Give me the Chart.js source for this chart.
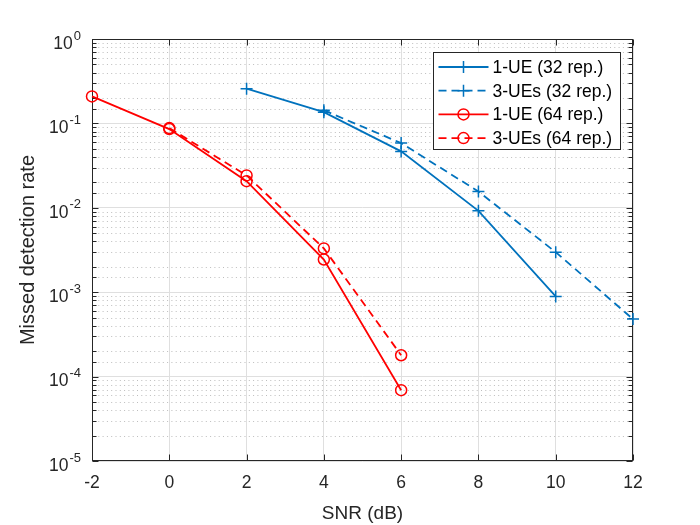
<!DOCTYPE html>
<html>
<head>
<meta charset="utf-8">
<title>Missed detection rate vs SNR</title>
<script src="https://cdn.jsdelivr.net/npm/chart.js@4.4.1/dist/chart.umd.min.js"></script>
<style>
  html, body { margin: 0; padding: 0; background: #fff; }
  #wrap { width: 700px; height: 525px; }
</style>
</head>
<body>
<div id="wrap"><canvas id="mdr" width="700" height="525"></canvas></div>
<script>
// SNR points (dB) for each curve
const snr1ue32 = [2, 4, 6, 8, 10];
const snr3ue32 = [4, 6, 8, 10, 12];
const snr1ue64 = [-2, 0, 2, 4, 6];
const snr3ue64 = [0, 2, 4, 6];

// missed detection rate
const mdr1ue32 = [0.258, 0.136, 0.0466, 0.0092, 0.00089];
const mdr3ue32 = [0.143, 0.0584, 0.0156, 0.00298, 0.00048];
const mdr1ue64 = [0.209, 0.0856, 0.0207, 0.00244, 0.000069];
const mdr3ue64 = [0.088, 0.0242, 0.0033, 0.000179];

const seriesLabels = ['1-UE (32 rep.)', '3-UEs (32 rep.)', '1-UE (64 rep.)', '3-UEs (64 rep.)'];
const xTicks = [-2, 0, 2, 4, 6, 8, 10, 12];

const FONT = '"Liberation Sans", Arial, Helvetica, sans-serif';
const BLUE = '#0072BD';
const RED = '#FF0000';
const AXIS = '#262626';

const pts = (xs, ys) => xs.map((x, i) => ({ x: x, y: ys[i] }));
const isDecade = v => Math.abs(Math.log10(v) - Math.round(Math.log10(v))) < 1e-9;

function line(ctx, x1, y1, x2, y2) {
    ctx.beginPath();
    ctx.moveTo(x1, y1);
    ctx.lineTo(x2, y2);
    ctx.stroke();
}

function marker(ctx, style, r, x, y) {
    ctx.beginPath();
    if (style === 'cross') {
        ctx.moveTo(x - r, y); ctx.lineTo(x + r, y);
        ctx.moveTo(x, y - r); ctx.lineTo(x, y + r);
    } else {
        ctx.arc(x, y, r, 0, Math.PI * 2);
    }
    ctx.stroke();
}

// MATLAB-ish axes: dotted minor grid, box, inward ticks, 10^n labels, legend
const matlabAxes = {
    id: 'matlabAxes',
    beforeDatasetsDraw(chart) {
        const { ctx, chartArea: a, scales: { x, y } } = chart;
        ctx.save();
        ctx.strokeStyle = '#bdbdbd';
        ctx.lineWidth = 1;
        ctx.setLineDash([1, 3.3]);
        y.ticks.forEach(t => {
            if (isDecade(t.value)) return;
            const py = Math.round(y.getPixelForValue(t.value)) + 0.5;
            line(ctx, a.left + 2, py, a.right, py);
        });

        ctx.strokeStyle = AXIS;
        ctx.setLineDash([]);
        const L = Math.round(a.left) + 0.5, R = Math.round(a.right) - 0.5;
        const T = Math.round(a.top) + 0.5, B = Math.round(a.bottom) - 0.5;
        ctx.strokeRect(L, T, R - L, B - T);

        x.ticks.forEach(t => {
            const px = Math.round(x.getPixelForValue(t.value)) + 0.5;
            line(ctx, px, B, px, B - 6);
            line(ctx, px, T, px, T + 6);
        });
        y.ticks.forEach(t => {
            const py = Math.round(y.getPixelForValue(t.value)) + 0.5;
            const len = isDecade(t.value) ? 6 : 4;
            line(ctx, L, py, L + len, py);
            line(ctx, R, py, R - len, py);
        });
        ctx.restore();
    },
    afterDatasetsDraw(chart) {
        const { ctx, chartArea: a, scales: { y } } = chart;
        ctx.save();

        // y tick labels as 10^n
        ctx.fillStyle = AXIS;
        ctx.textBaseline = 'middle';
        ctx.textAlign = 'left';
        y.ticks.filter(t => isDecade(t.value)).forEach(t => {
            const py = y.getPixelForValue(t.value);
            const e = String(Math.round(Math.log10(t.value)));
            ctx.font = '17.5px ' + FONT;
            const wb = ctx.measureText('10').width;
            ctx.font = '13px ' + FONT;
            const we = ctx.measureText(e).width;
            const xr = a.left - 11;
            ctx.font = '17.5px ' + FONT;
            ctx.fillText('10', xr - we - wb - 1, py + 5);
            ctx.font = '13px ' + FONT;
            ctx.fillText(e, xr - we, py - 3);
        });

        // legend
        const lx = 433.5, ly = 52.5, lw = 187, lh = 97;
        ctx.fillStyle = '#fff';
        ctx.fillRect(lx, ly, lw, lh);
        ctx.strokeStyle = AXIS;
        ctx.lineWidth = 1;
        ctx.strokeRect(lx, ly, lw, lh);
        ctx.font = '17.5px ' + FONT;
        ctx.textBaseline = 'middle';
        chart.data.datasets.forEach((ds, i) => {
            const cy = ly + 14.5 + i * 23.7;
            ctx.strokeStyle = ds.borderColor;
            ctx.lineWidth = ds.borderWidth;
            ctx.setLineDash(ds.borderDash || []);
            line(ctx, lx + 5, cy, lx + 55, cy);
            ctx.setLineDash([]);
            ctx.lineWidth = ds.pointBorderWidth;
            marker(ctx, ds.pointStyle, ds.pointRadius, lx + 30, cy);
            ctx.fillStyle = '#000';
            ctx.fillText(ds.label, lx + 59, cy + 1);
        });
        ctx.restore();
    }
};

const mkSet = (label, data, color, dashed, style) => ({
    label: label,
    data: data,
    borderColor: color,
    borderWidth: 1.8,
    borderDash: dashed ? [8, 5] : [],
    pointStyle: style,
    pointRadius: style === 'cross' ? 6 : 5.5,
    pointBorderWidth: 1.5,
    pointBorderColor: color,
    pointBackgroundColor: 'rgba(0,0,0,0)',
    fill: false,
    tension: 0,
    clip: false
});

new Chart(document.getElementById('mdr'), {
    type: 'line',
    data: {
        datasets: [
            mkSet(seriesLabels[0], pts(snr1ue32, mdr1ue32), BLUE, false, 'cross'),
            mkSet(seriesLabels[1], pts(snr3ue32, mdr3ue32), BLUE, true, 'cross'),
            mkSet(seriesLabels[2], pts(snr1ue64, mdr1ue64), RED, false, 'circle'),
            mkSet(seriesLabels[3], pts(snr3ue64, mdr3ue64), RED, true, 'circle')
        ]
    },
    options: {
        responsive: false,
        animation: false,
        devicePixelRatio: 1,
        layout: { padding: { left: 0, top: 39, right: 67, bottom: 0 } },
        plugins: { legend: { display: false }, tooltip: { enabled: false } },
        scales: {
            x: {
                type: 'linear',
                min: -2,
                max: 12,
                afterBuildTicks: s => { s.ticks = xTicks.map(v => ({ value: v })); },
                afterFit: s => { s.height = 64; },
                ticks: {
                    color: AXIS,
                    font: { family: FONT, size: 17.5 },
                    padding: 12,
                    maxRotation: 0,
                    autoSkip: false
                },
                grid: { color: '#dfdfdf', drawTicks: false },
                border: { display: false },
                title: {
                    display: true,
                    text: 'SNR (dB)',
                    color: AXIS,
                    font: { family: FONT, size: 19 },
                    padding: { top: 0, bottom: 0 }
                }
            },
            y: {
                type: 'logarithmic',
                min: 1e-5,
                max: 1,
                afterFit: s => { s.width = 92; },
                ticks: { display: false, autoSkip: false },
                grid: {
                    color: c => (c.tick && isDecade(c.tick.value)) ? '#dfdfdf' : 'rgba(0,0,0,0)',
                    drawTicks: false
                },
                border: { display: false },
                title: {
                    display: true,
                    text: 'Missed detection rate',
                    color: AXIS,
                    font: { family: FONT, size: 20 },
                    padding: { top: 16, bottom: 0 }
                }
            }
        }
    },
    plugins: [matlabAxes]
});
</script>
</body>
</html>
